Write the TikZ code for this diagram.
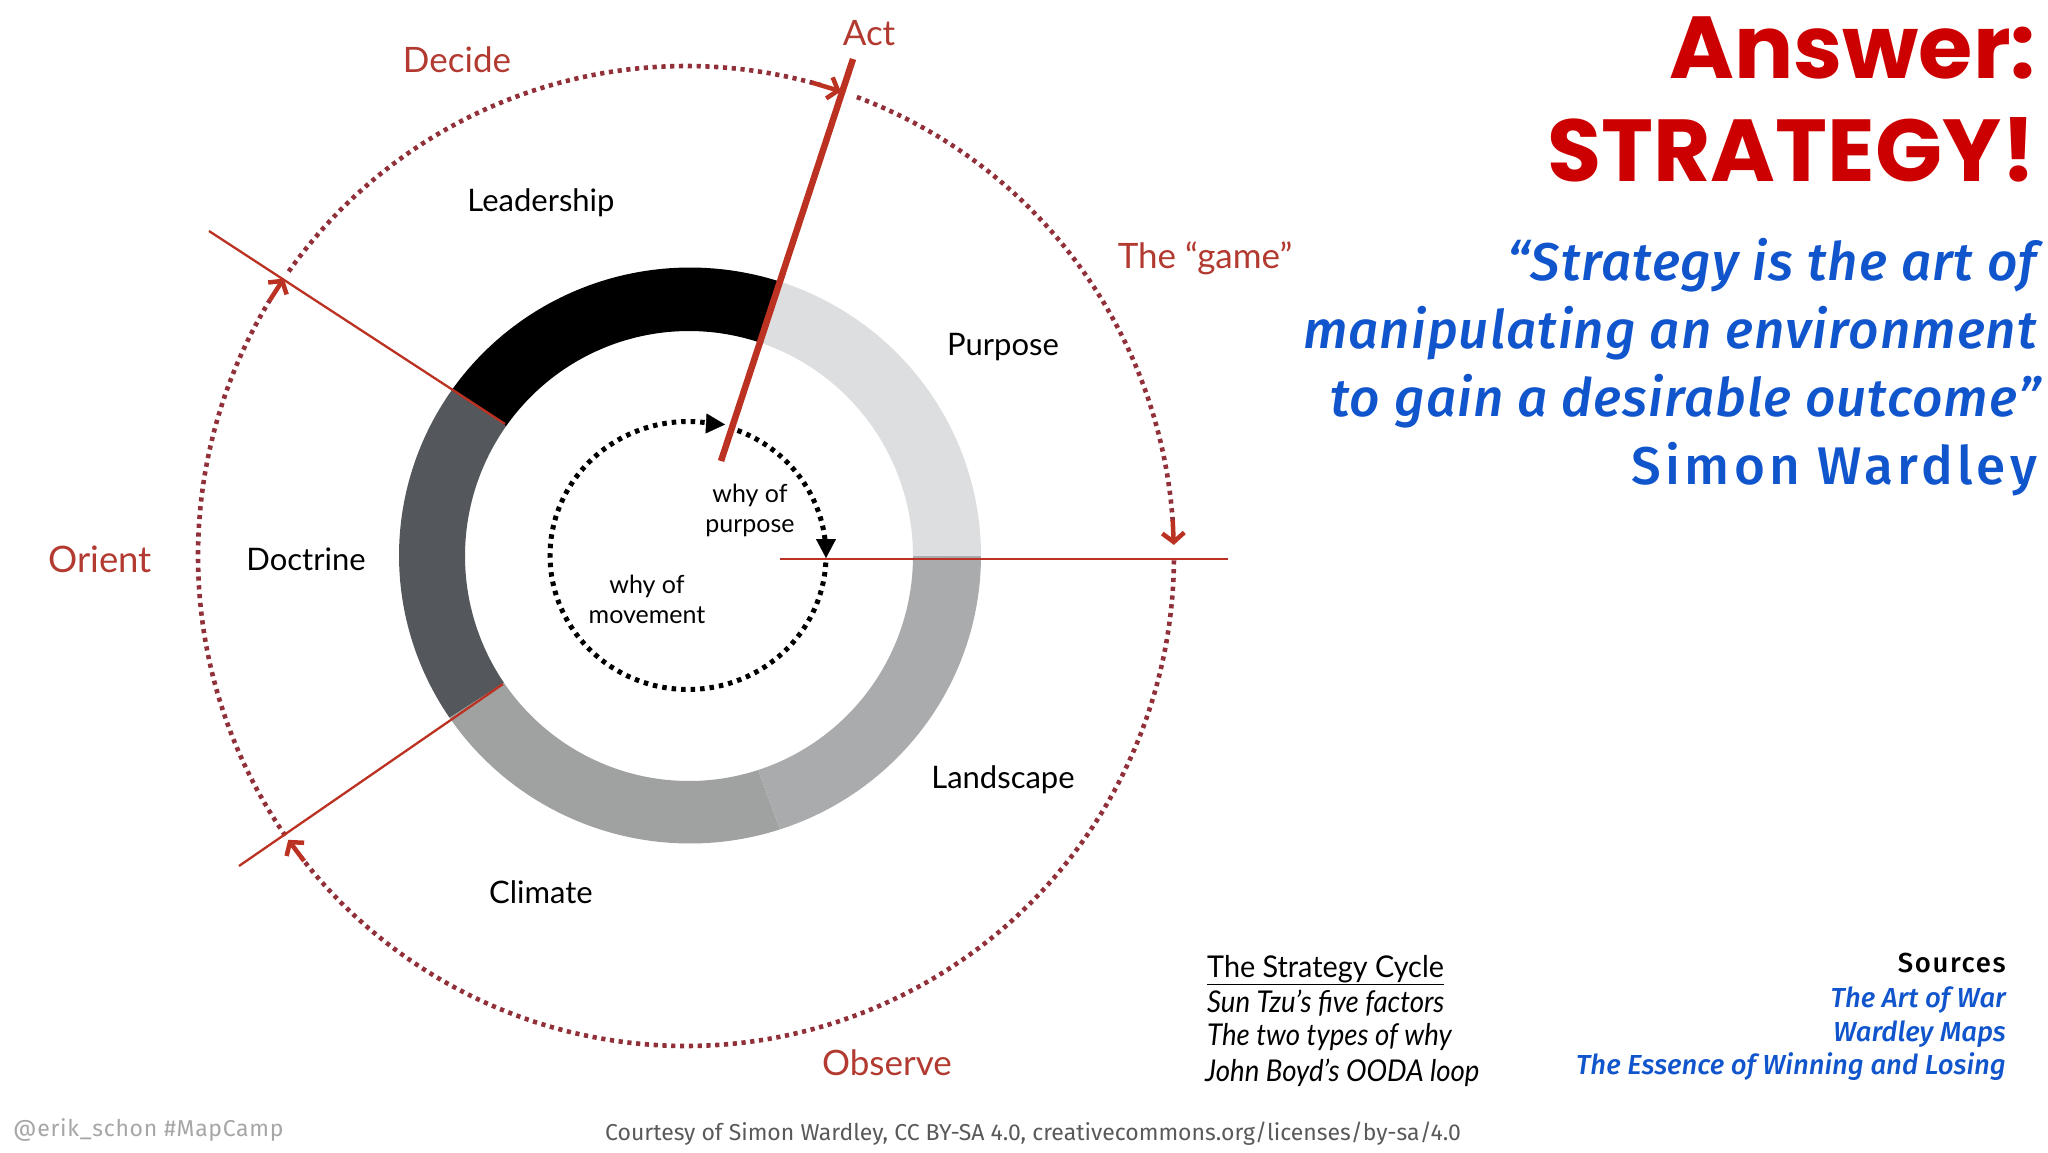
\documentclass[tikz,border=0pt]{standalone}
\usepackage{fontspec}
\setmainfont{Lato}
\newfontfamily\headf{Poppins}
\newfontfamily\quotef{Fira Sans Medium}
\newfontfamily\footf{Fira Sans}
\usetikzlibrary{arrows.meta}
\definecolor{redline}{HTML}{BC3222}
\definecolor{reddot}{HTML}{913038}
\definecolor{redlabel}{HTML}{B23A30}
\definecolor{headred}{HTML}{CC0000}
\definecolor{quoteblue}{HTML}{1155CC}
\definecolor{ringdoct}{HTML}{54585C}
\definecolor{ringclim}{HTML}{A0A2A1}
\definecolor{ringland}{HTML}{A9ABAD}
\definecolor{ringpurp}{HTML}{DCDEE0}
\newcommand{\ringseg}[3]{\fill[#3] plot[domain=#1:#2,samples=60] ({690+291*cos(\x)},{555.5-288*sin(\x)}) -- plot[domain=#2:#1,samples=60] ({689+224*cos(\x)},{556-225*sin(\x)}) -- cycle;}
\newcommand{\outerarc}[2]{\draw[outerdots] plot[domain=#1:#2,samples=150] ({686+488*cos(\x)},{556-490*sin(\x)});}
\newcommand{\innerarc}[2]{\draw[innerdots] plot[domain=#1:#2,samples=120] ({688+138*cos(\x)},{555.5-134*sin(\x)});}
\tikzset{
  outerdots/.style={reddot,line width=4.6pt,dash pattern=on 4.2pt off 4.6pt},
  innerdots/.style={black,line width=5pt,dash pattern=on 4.5pt off 5pt},
  barbtip/.style={redline,line width=4.5pt,-{Straight Barb[length=9pt,width=22pt,line width=4.5pt]}},
  tritip/.style={black,-{Triangle[length=19pt,width=20pt]}},
  thinred/.style={redline,line width=2.3pt},
  redtxt/.style={text=redlabel,font=\fontsize{35}{35}\selectfont,inner sep=0pt},
  blktxt/.style={text=black,font=\fontsize{31}{31}\selectfont,inner sep=0pt},
  smalltxt/.style={text=black,font=\fontsize{25}{30}\selectfont,inner sep=0pt,align=center},
  headtxt/.style={text=headred,font=\headf\bfseries\fontsize{88}{88}\selectfont,inner sep=0pt,anchor=east},
  quotetxt/.style={text=quoteblue,font=\quotef\itshape\fontsize{53}{53}\selectfont\addfontfeatures{LetterSpace=2},inner sep=0pt,anchor=east},
  srctxt/.style={text=quoteblue,font=\quotef\itshape\fontsize{27.5}{27.5}\selectfont,inner sep=0pt,anchor=east},
  cycletxt/.style={text=black,font=\itshape\fontsize{30}{30}\selectfont\addfontfeatures{FakeStretch=0.92},inner sep=0pt,anchor=west},
}
\begin{document}
\begin{tikzpicture}[x=1pt,y=-1pt]
\useasboundingbox (0,0) rectangle (2048,1152);
% ring
\ringseg{71.9}{144.8}{black}
\ringseg{144.8}{214.3}{ringdoct}
\ringseg{214.3}{288}{ringclim}
\ringseg{288}{360}{ringland}
\ringseg{0}{71.9}{ringpurp}
% outer dotted cycle
\outerarc{144.5}{74}
\outerarc{69.5}{3.5}
\outerarc{-0.5}{-142}
\outerarc{-145.2}{-211.5}
% barb tips
\coordinate (tipAb) at ({686+488*cos(75)},{556-490*sin(75)});
\coordinate (tipA) at ({686+488*cos(71.5)},{556-490*sin(71.5)});
\coordinate (tipGb) at ({686+488*cos(4.2)},{556-490*sin(4.2)});
\coordinate (tipG) at ({686+488*cos(1.3)},{556-490*sin(1.3)});
\coordinate (tipOb) at ({686+488*cos(-141.5)},{556-490*sin(-141.5)});
\coordinate (tipO) at ({686+488*cos(-144.6)},{556-490*sin(-144.6)});
\coordinate (tipDb) at ({686+488*cos(-211.5)},{556-490*sin(-211.5)});
\coordinate (tipD) at ({686+488*cos(-214.5)},{556-490*sin(-214.5)});
\draw[barbtip] (tipAb) -- (tipA);
\draw[barbtip] (tipGb) -- (tipG);
\draw[barbtip] (tipOb) -- (tipO);
\draw[barbtip] (tipDb) -- (tipD);
% phase lines
\coordinate (actT) at (853,59);
\coordinate (actB) at (721,461);
\coordinate (ulT) at (209,231);
\coordinate (ulB) at (505,424);
\coordinate (llT) at (239,866);
\coordinate (llB) at (503,684);
\coordinate (hL) at (780,559);
\coordinate (hR) at (1228,559);
\draw[redline,line width=6.5pt] (actT) -- (actB);
\draw[thinred] (ulT) -- (ulB);
\draw[thinred] (llT) -- (llB);
\draw[thinred] (hL) -- (hR);
% inner dotted cycle
\innerarc{69}{6}
\innerarc{-3}{-277}
\coordinate (iA) at (706,423.5);
\coordinate (iAt) at (725,424.5);
\coordinate (iB) at (826,539);
\coordinate (iBt) at (826,558);
\draw[tritip] (iA) -- (iAt);
\draw[tritip] (iB) -- (iBt);
% red labels
\node[redtxt] (decide) at (457,60) {Decide};
\node[redtxt] (act) at (869,33) {Act};
\node[redtxt] (game) at (1205,258) {The “game”};
\node[redtxt,font=\fontsize{36.5}{36.5}\selectfont] (orient) at (100,559) {Orient};
\node[redtxt] (observe) at (887,1063) {Observe};
% black labels
\node[blktxt] (leadership) at (541,203) {Leadership};
\node[blktxt] (purpose) at (1003,347) {Purpose};
\node[blktxt] (doctrine) at (306,559) {Doctrine};
\node[blktxt] (landscape) at (1003,780) {Landscape};
\node[blktxt] (climate) at (541,892) {Climate};
\node[smalltxt] (whyp) at (750,510) {why of\\purpose};
\node[smalltxt] (whym) at (647,599) {why of\\movement};
% heading
\node[headtxt] (h1) at (2036,48) {Answer:};
\node[headtxt] (h2) at (2036,150) {STRATEGY!};
\node[quotetxt] (q1) at (2037,265) {“Strategy is the art of};
\node[quotetxt] (q2) at (2037,333) {manipulating an environment};
\node[quotetxt] (q3) at (2041,401) {to gain a desirable outcome”};
\node[text=quoteblue,font=\quotef\fontsize{53}{53}\selectfont\addfontfeatures{LetterSpace=8},inner sep=0pt,anchor=east] (q4) at (2037,469) {Simon Wardley};
% strategy cycle
\node[text=black,font=\fontsize{30}{30}\selectfont\addfontfeatures{FakeStretch=0.96},inner sep=0pt,anchor=west] (c0) at (1207,970) {\underline{The Strategy Cycle}};
\node[cycletxt] (c1) at (1207,1003) {Sun Tzu's five factors};
\node[cycletxt] (c2) at (1207,1037) {The two types of why};
\node[cycletxt] (c3) at (1205,1073) {John Boyd’s OODA loop};
% sources
\node[text=black,font=\quotef\fontsize{27.5}{27.5}\selectfont\addfontfeatures{LetterSpace=6},inner sep=0pt,anchor=east] (s0) at (2006,963) {Sources};
\node[srctxt] (s1) at (2006,1000) {The Art of War};
\node[srctxt] (s2) at (2006,1034) {Wardley Maps};
\node[srctxt] (s3) at (2006,1067) {The Essence of Winning and Losing};
% footer
\node[text=black!35,font=\footf\fontsize{23}{23}\selectfont\addfontfeatures{LetterSpace=3},inner sep=0pt,anchor=west] (f1) at (13,1130) {@erik\_schon \#MapCamp};
\node[text=black!65,font=\footf\fontsize{23}{23}\selectfont,inner sep=0pt] (f2) at (1033,1134) {Courtesy of Simon Wardley, CC BY-SA 4.0, creativecommons.org/licenses/by-sa/4.0};
\end{tikzpicture}
\end{document}
